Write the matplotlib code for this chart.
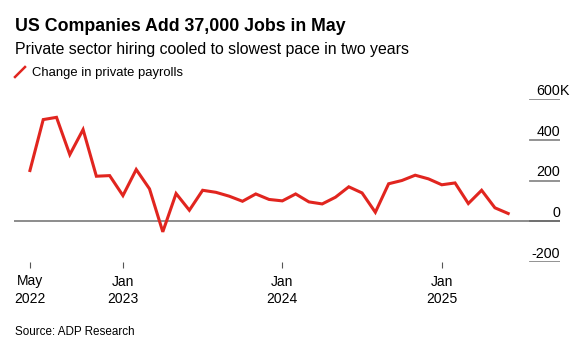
import matplotlib.pyplot as plt
import matplotlib.transforms as mtransforms
from matplotlib.lines import Line2D

plt.rcParams['font.family'] = ['Liberation Sans', 'DejaVu Sans']

# monthly change in private payrolls, thousands (May 2022 .. May 2025)
payrolls = [249, 499, 510, 327, 450, 221, 224, 126, 254, 159, -52, 136, 54,
            152, 142, 123, 98, 134, 107, 100, 134, 95, 85, 118, 169, 139, 44,
            184, 200, 226, 208, 179, 188, 87, 152, 66, 38]
months = list(range(len(payrolls)))

xtick_pos = [0, 7, 19, 31]
xtick_labels = ['May\n2022', 'Jan\n2023', 'Jan\n2024', 'Jan\n2025']
ytick_vals = [600, 400, 200, 0, -200]
ytick_labels = ['600', '400', '200', '0', '-200']

fig = plt.figure(figsize=(5.88, 3.52), dpi=100)
ax = fig.add_axes([14 / 588, 90 / 352, 546 / 588, 163 / 352])

ax.plot(months, payrolls, color='#e1251f', lw=2.2, solid_joinstyle='miter')
ax.axhline(0, color='#6e6e6e', lw=1.1, zorder=0)
for v in ytick_vals:
    if v != 0:
        ax.axhline(v, xmin=1 - 30 / 546, xmax=1, color='#8a8a8a', lw=1.3)
    else:
        ax.axhline(v, xmin=1 - 30 / 546, xmax=1, color='#6e6e6e', lw=1.3)

trans = mtransforms.blended_transform_factory(ax.transAxes, ax.transData)
off = mtransforms.offset_copy(trans, fig=fig, x=0, y=4, units='dots')
for v, lab in zip(ytick_vals, ytick_labels):
    ax.text(1.0, v, lab, transform=off, ha='right', va='baseline', fontsize=10.3)
ax.text(1.0, 600, 'K', transform=off, ha='left', va='baseline', fontsize=10.3)

ax.set_xlim(-1.2, 39.9)
ax.set_ylim(-200, 600)
ax.set_xticks(xtick_pos)
ax.set_xticklabels(xtick_labels, fontsize=10, linespacing=1.3)
ax.tick_params(axis='x', length=4, width=0.8, color='#555555', pad=5)
ax.set_yticks([])
for s in ax.spines.values():
    s.set_visible(False)

fig.text(15 / 588, 1 - 31 / 352, 'US Companies Add 37,000 Jobs in May',
         fontsize=12.8, fontweight='bold', va='baseline')
fig.text(15 / 588, 1 - 54 / 352, 'Private sector hiring cooled to slowest pace in two years',
         fontsize=11.4, va='baseline')
fig.add_artist(Line2D([15 / 588, 25 / 588], [1 - 77 / 352, 1 - 67 / 352],
                      color='#e1251f', lw=1.8, transform=fig.transFigure))
fig.text(32 / 588, 1 - 76 / 352, 'Change in private payrolls', fontsize=9.4, va='baseline')
fig.text(15 / 588, 1 - 335 / 352, 'Source: ADP Research', fontsize=8.4, va='baseline')

fig.savefig('out.png', dpi=100)
